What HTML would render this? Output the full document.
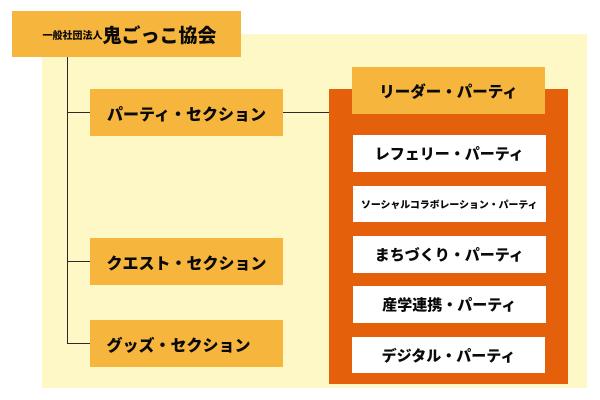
<!DOCTYPE html>
<html>
<head>
<meta charset="utf-8">
<style>
  html,body{margin:0;padding:0;}
  body{width:600px;height:400px;position:relative;background:#fff;overflow:hidden;
    font-family:"Liberation Sans","Noto Sans CJK JP",sans-serif;font-weight:900;color:#0a0a0a;}
  .a{position:absolute;box-sizing:border-box;}
  .c{display:flex;align-items:center;justify-content:center;white-space:nowrap;}
  .y{background:#F6B53C;}
  .w{background:#fff;}
  .ln{position:absolute;background:#2b2b2b;}
</style>
</head>
<body>
  <!-- light yellow background -->
  <div class="a" style="left:42px;top:34px;width:545px;height:354px;background:#FEF8C6;"></div>

  <!-- connector lines -->
  <div class="ln" style="left:67px;top:57px;width:1.3px;height:287px;"></div>
  <div class="ln" style="left:67px;top:111.5px;width:23px;height:1.2px;"></div>
  <div class="ln" style="left:67px;top:261px;width:23px;height:1.2px;"></div>
  <div class="ln" style="left:67px;top:343px;width:23px;height:1.2px;"></div>
  <div class="ln" style="left:283px;top:111.5px;width:46px;height:1.2px;"></div>

  <!-- title -->
  <div class="a c y" style="left:12px;top:11px;width:229px;height:46px;padding-left:6px;">
    <span style="font-size:10px;">一般社団法人</span><span style="font-size:19px;">鬼ごっこ協会</span>
  </div>

  <!-- sections -->
  <div class="a c y" style="left:90px;top:89px;width:193px;height:47px;font-size:16px;">パーティ・セクション</div>
  <div class="a c y" style="left:90px;top:238px;width:193px;height:47px;font-size:16px;">クエスト・セクション</div>
  <div class="a c y" style="left:90px;top:320px;width:193px;height:47px;font-size:16px;padding-right:16px;">グッズ・セクション</div>

  <!-- orange party container -->
  <div class="a" style="left:329px;top:89px;width:239px;height:295px;background:#E5600A;"></div>
  <div class="a c y" style="left:352px;top:67px;width:193px;height:47px;font-size:15.5px;">リーダー・パーティ</div>

  <div class="a c w" style="left:352.5px;top:135px;width:193.5px;height:37px;font-size:15px;">レフェリー・パーティ</div>
  <div class="a c w" style="left:352.5px;top:185.5px;width:193.5px;height:36.5px;font-size:9.9px;">ソーシャルコラボレーション・パーティ</div>
  <div class="a c w" style="left:352.5px;top:236px;width:193.5px;height:37px;font-size:15px;">まちづくり・パーティ</div>
  <div class="a c w" style="left:352.5px;top:286px;width:193.5px;height:36.5px;font-size:15px;">産学連携・パーティ</div>
  <div class="a c w" style="left:352px;top:337px;width:193px;height:36px;font-size:15px;">デジタル・パーティ</div>
</body>
</html>
